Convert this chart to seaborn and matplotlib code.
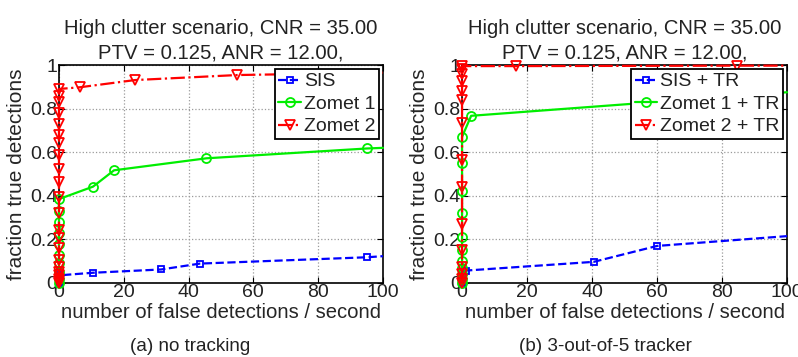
import numpy as np
import pandas as pd
import seaborn as sns
from matplotlib import pyplot as plt

# ---- (a) no tracking ----
sis_a_x = [0, 0, 0, 0, 10.5, 31.5, 43.5, 95, 100]
sis_a_y = [0.0, 0.01, 0.02, 0.035, 0.047, 0.062, 0.089, 0.118, 0.123]

z1_a_x = [0, 0, 0, 0, 0, 0, 0, 0, 0, 0, 10.5, 17, 45.5, 95, 100]
z1_a_y = [0.0, 0.02, 0.05, 0.09, 0.13, 0.18, 0.23, 0.28, 0.33, 0.385,
          0.442, 0.517, 0.572, 0.617, 0.62]

z2_a_x = [0] * 22 + [6.5, 23.5, 55, 100]
z2_a_y = [0.0, 0.01, 0.02, 0.035, 0.05, 0.075, 0.105, 0.16, 0.205, 0.245,
          0.32, 0.395, 0.465, 0.525, 0.585, 0.64, 0.68, 0.73, 0.78, 0.83,
          0.86, 0.89, 0.898, 0.931, 0.954, 0.965]

# ---- (b) 3-out-of-5 tracker ----
sis_b_x = [0, 0, 1.2, 40.5, 60, 100]
sis_b_y = [0.0, 0.03, 0.057, 0.097, 0.17, 0.215]

z1_b_x = [0] * 11 + [2.8, 100]
z1_b_y = [0.0, 0.02, 0.04, 0.07, 0.10, 0.15, 0.21, 0.32, 0.42, 0.55, 0.67,
          0.767, 0.875]

z2_b_x = [0] * 15 + [16.5, 84.5, 100]
z2_b_y = [0.0, 0.02, 0.04, 0.075, 0.15, 0.27, 0.44, 0.565, 0.735, 0.84,
          0.88, 0.925, 0.96, 0.98, 0.995, 0.995, 0.997, 0.997]

xticks = [0, 20, 40, 60, 80, 100]
yticks = [0, 0.2, 0.4, 0.6, 0.8, 1]
ytick_labels = ['0', '0.2', '0.4', '0.6', '0.8', '1']

title_text = 'High clutter scenario, CNR = 35.00\nPTV = 0.125, ANR = 12.00,'
xlabel_text = 'number of false detections / second'
ylabel_text = 'fraction true detections'
captions = ['(a) no tracking', '(b) 3-out-of-5 tracker']
labels_a = ['SIS', 'Zomet 1', 'Zomet 2']
labels_b = ['SIS + TR', 'Zomet 1 + TR', 'Zomet 2 + TR']

sns.set_style('ticks', {'xtick.direction': 'in', 'ytick.direction': 'in',
                        'axes.grid': True, 'grid.linestyle': ':',
                        'grid.color': '#9a9a9a', 'axes.edgecolor': 'black'})
plt.rcParams['font.family'] = ['Liberation Sans', 'DejaVu Sans']
plt.rcParams['text.color'] = '#222222'
plt.rcParams['xtick.color'] = 'black'
plt.rcParams['ytick.color'] = 'black'
plt.rcParams['xtick.labelcolor'] = '#222222'
plt.rcParams['ytick.labelcolor'] = '#222222'

styles = [
    dict(color='#0000ff', linestyle='--', marker='s', markersize=4.5),
    dict(color='#00ee00', linestyle='-', marker='o', markersize=6.5),
    dict(color='#ff0000', linestyle='-.', marker='v', markersize=7.5),
]


def draw_panel(ax, series, labels):
    for (xs, ys), lab, st in zip(series, labels, styles):
        df = pd.DataFrame({'x': xs, 'y': ys})
        # the end point at x=100 carries no marker in the original
        every = list(range(len(xs) - 1)) if xs[-1] == 100 else None
        sns.lineplot(data=df, x='x', y='y', ax=ax, estimator=None, sort=False,
                     color=st['color'], linestyle=st['linestyle'],
                     marker=st['marker'], markersize=st['markersize'],
                     markevery=every,
                     markerfacecolor='none', markeredgecolor=st['color'],
                     markeredgewidth=1.3, linewidth=1.6, label=lab,
                     clip_on=False, zorder=3)
    ax.set_xlim(0, 100)
    ax.set_ylim(0, 1)
    ax.set_xticks(xticks)
    ax.set_yticks(yticks)
    ax.set_yticklabels(ytick_labels)
    ax.tick_params(labelsize=14, top=True, right=True, direction='in',
                   length=4, width=0.8, pad=1)
    for sp in ax.spines.values():
        sp.set_visible(True)
        sp.set_linewidth(1.2)
        sp.set_color('black')
    ax.grid(True, linestyle=':', color='#9a9a9a', linewidth=0.9)
    ax.set_title(title_text, fontsize=14.6, pad=5, linespacing=1.32)
    ax.set_xlabel(xlabel_text, fontsize=14.6, labelpad=1)
    ax.set_ylabel(ylabel_text, fontsize=15, labelpad=3)
    leg = ax.legend(loc='upper right', fontsize=14, frameon=True, fancybox=False,
                    borderaxespad=0.2, handlelength=1.15, handletextpad=0.15,
                    labelspacing=0.25, borderpad=0.2, framealpha=1)
    leg.get_frame().set_edgecolor('black')
    leg.get_frame().set_linewidth(1.3)
    leg.set_zorder(10)


fig = plt.figure(figsize=(7.98, 3.57), dpi=100)
ax1 = fig.add_axes([0.0739, 0.2073, 0.406, 0.6106])
ax2 = fig.add_axes([0.579, 0.2073, 0.4073, 0.6106])

draw_panel(ax1, [(sis_a_x, sis_a_y), (z1_a_x, z1_a_y), (z2_a_x, z2_a_y)], labels_a)
draw_panel(ax2, [(sis_b_x, sis_b_y), (z1_b_x, z1_b_y), (z2_b_x, z2_b_y)], labels_b)

fig.text(190 / 798, 0.03, captions[0], ha='center', va='center', fontsize=13.6)
fig.text(605 / 798, 0.03, captions[1], ha='center', va='center', fontsize=13.6)

fig.savefig('out.png', dpi=100)
